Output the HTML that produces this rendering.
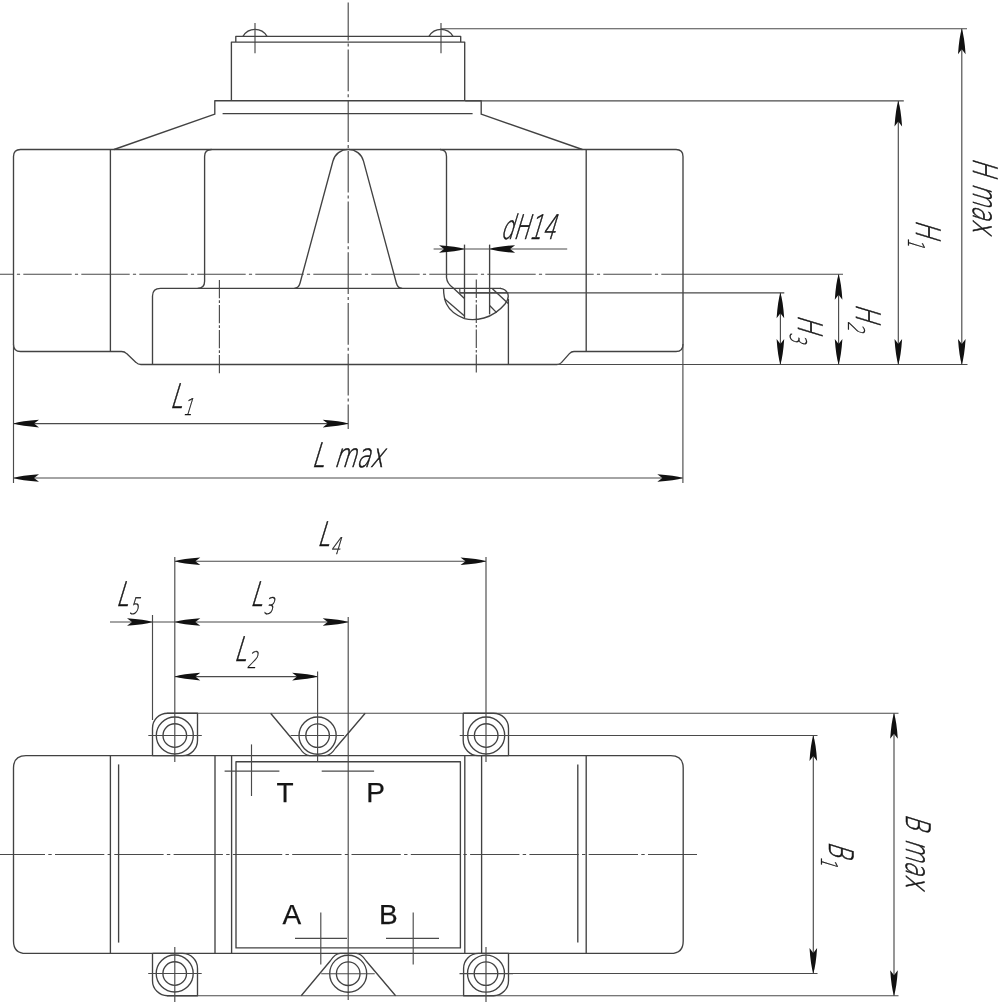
<!DOCTYPE html>
<html lang="en">
<head>
<meta charset="utf-8">
<title>Dimensional drawing</title>
<style>
html,body{margin:0;padding:0;background:#fff;}
body{width:1001px;height:1002px;overflow:hidden;}
svg{display:block;will-change:transform;}
.m{fill:none;stroke:#424242;stroke-width:1.35;stroke-linecap:butt;stroke-linejoin:round;}
.t{fill:none;stroke:#4a4a4a;stroke-width:1.15;}
.c{fill:none;stroke:#4a4a4a;stroke-width:1.15;stroke-dasharray:48.4 3.2 3.2 3.2;}
.g{font-family:"DejaVu Sans","Liberation Sans",sans-serif;font-weight:200;fill:#151515;stroke:#151515;stroke-width:0.6;}
.p{font-family:"Liberation Sans",sans-serif;font-size:28px;fill:#151515;stroke:#151515;stroke-width:0.25;}
#ar{fill:#111;stroke:none;}
</style>
</head>
<body>
<svg width="1001" height="1002" viewBox="0 0 1001 1002">
<defs>
<path id="ar" d="M0,0 Q-8,-2.6 -25.5,-3.8 L-20.5,0 L-25.5,3.8 Q-8,2.6 0,0 Z"/>
</defs>
<rect x="0" y="0" width="1001" height="1002" fill="#fff"/>
<g id="front-view">
<line class="c" x1="0" y1="274.2" x2="708" y2="274.2" style="stroke-dashoffset:34.7"/>
<line class="t" x1="708" y1="274.2" x2="843" y2="274.2"/>
<line class="c" x1="348.2" y1="2.5" x2="348.2" y2="429" style="stroke-dasharray:41.7 3 3 3;stroke-dashoffset:3.7"/>
<line class="c" x1="219.4" y1="279.9" x2="219.4" y2="373.2" style="stroke-dasharray:18.3 2 2.7 2"/>
<line class="c" x1="476.3" y1="279.6" x2="476.3" y2="372.6" style="stroke-dasharray:18.3 2 2.7 2"/>
<path class="m" d="M243,36.3 A13.8 13.8 0 0 1 267,36.3"/>
<line class="t" x1="255" y1="22.9" x2="255" y2="53.2"/>
<path class="m" d="M429.0,36.3 A13.8 13.8 0 0 1 453.0,36.3"/>
<line class="t" x1="441.0" y1="22.9" x2="441.0" y2="53.2"/>
<path class="m" d="M235.8,42.1 V36.4 H460.7 V42.1"/>
<path class="m" d="M231.4,100.8 V42.1 H464.7 V100.8"/>
<path class="m" d="M114,149.5 L214.8,114.2 V100.7 H481.2 V114.2 L582.4,149.5"/>
<line class="m" x1="222.6" y1="113.6" x2="472.6" y2="113.6"/>
<path class="m" d="M110.4,149.5 H20.5 Q13.5,149.5 13.5,156.5 V344.5 Q13.5,351.5 20.5,351.5 H121.5 Q124.6,351.5 126.6,353.6 L136,362.4 Q138,364.5 141,364.5 H557 Q559.6,364.5 561.4,362.6 L569.4,353.6 Q571.4,351.5 574,351.5 H676 Q683,351.5 683,344.5 V156.5 Q683,149.5 676,149.5 H110.4"/>
<line class="m" x1="110.4" y1="149.5" x2="110.4" y2="351.5"/>
<line class="m" x1="586.2" y1="149.5" x2="586.2" y2="351.5"/>
<path class="m" d="M152.5,364.5 V296 Q152.5,288.3 160.5,288.3 H501"/>
<path class="m" d="M197.6,288.3 Q204.6,288.3 204.6,281.3 V156.5 Q204.6,149.5 211.6,149.5"/>
<path class="m" d="M294.3,288.3 Q298.6,288.3 300,283.3 L332.9,161.2 A15.8 15.8 0 0 1 363.5,161.2 L396.4,283.3 Q397.8,288.3 402.2,288.3"/>
<path class="m" d="M440,149.5 Q446.5,149.5 446.5,156.5 V277.5 Q447,283.5 453,287.8 L464.5,298.5"/>
<path class="t" d="M459.8,288.3 V292.8 H784.3"/>
<line class="m" x1="459.8" y1="292.8" x2="508.4" y2="292.8"/>
<line class="m" x1="508.4" y1="299" x2="508.4" y2="364.5"/>
<line class="m" x1="464.5" y1="244.6" x2="464.5" y2="318.6"/>
<line class="m" x1="489.6" y1="244.6" x2="489.6" y2="314.4"/>
<path class="m" d="M443.5,288.3 C443.6,294 444,299 446.5,304 C450,311 455,315 464.5,318.6 C470,320 478,319.6 484,318 C493,315.5 500,310 505,304 C508,300 509,296 507.5,293 C506,290 503,288.6 500,288.3"/>
<line class="m" x1="444.2" y1="298.6" x2="464.5" y2="316"/>
<line class="m" x1="492.4" y1="288.8" x2="508.2" y2="303.4"/>
<line class="m" x1="489.6" y1="305.5" x2="496.6" y2="312.6"/>
<line class="t" x1="433.6" y1="249" x2="567.2" y2="249"/>
<use href="#ar" transform="translate(464.5,249) rotate(0)"/>
<use href="#ar" transform="translate(489.6,249) rotate(180)"/>
<line class="t" x1="13.5" y1="344" x2="13.5" y2="483"/>
<line class="t" x1="682.9" y1="344" x2="682.9" y2="483"/>
<line class="t" x1="13.5" y1="423.6" x2="348.2" y2="423.6"/>
<use href="#ar" transform="translate(13.5,423.6) rotate(180)"/>
<use href="#ar" transform="translate(348.2,423.6) rotate(0)"/>
<line class="t" x1="13.5" y1="478" x2="682.8" y2="478"/>
<use href="#ar" transform="translate(13.5,478) rotate(180)"/>
<use href="#ar" transform="translate(682.8,478) rotate(0)"/>
<line class="t" x1="557" y1="364.5" x2="967.5" y2="364.5"/>
<line class="t" x1="441" y1="28.7" x2="967" y2="28.7"/>
<line class="t" x1="465.2" y1="100.9" x2="903.8" y2="100.9"/>
<line class="t" x1="780.4" y1="292.8" x2="780.4" y2="364.5"/>
<use href="#ar" transform="translate(780.4,292.8) rotate(-90)"/>
<use href="#ar" transform="translate(780.4,364.5) rotate(90)"/>
<line class="t" x1="838.6" y1="274.2" x2="838.6" y2="364.5"/>
<use href="#ar" transform="translate(838.6,274.2) rotate(-90)"/>
<use href="#ar" transform="translate(838.6,364.5) rotate(90)"/>
<line class="t" x1="898.3" y1="100.9" x2="898.3" y2="364.5"/>
<use href="#ar" transform="translate(898.3,100.9) rotate(-90)"/>
<use href="#ar" transform="translate(898.3,364.5) rotate(90)"/>
<line class="t" x1="961.8" y1="28.7" x2="961.8" y2="364.5"/>
<use href="#ar" transform="translate(961.8,28.7) rotate(-90)"/>
<use href="#ar" transform="translate(961.8,364.5) rotate(90)"/>
</g>
<g id="top-view">
<line class="c" x1="0" y1="854.5" x2="697" y2="854.5" style="stroke-dasharray:49.3 3.3 3.4 3.3;stroke-dashoffset:4.3"/>
<path class="m" d="M26,755.6 H670.7 Q683.2,755.6 683.2,768.1 V940.9 Q683.2,953.4 670.7,953.4 H26 Q13.5,953.4 13.5,940.9 V768.1 Q13.5,755.6 26,755.6"/>
<line class="m" x1="110.4" y1="755.6" x2="110.4" y2="953.4"/>
<line class="m" x1="215" y1="755.6" x2="215" y2="953.4"/>
<line class="m" x1="231.6" y1="755.6" x2="231.6" y2="953.4"/>
<line class="m" x1="464.8" y1="755.6" x2="464.8" y2="953.4"/>
<line class="m" x1="481.6" y1="755.6" x2="481.6" y2="953.4"/>
<line class="m" x1="586.2" y1="755.6" x2="586.2" y2="953.4"/>
<line class="m" x1="118.6" y1="764.4" x2="118.6" y2="942.6"/>
<line class="m" x1="577.8" y1="764.4" x2="577.8" y2="942.6"/>
<rect class="m" x="236" y="761.7" width="224.4" height="186.2"/>
<line class="t" x1="167" y1="713.2" x2="898.5" y2="713.2"/>
<line class="t" x1="167" y1="995.7" x2="898.5" y2="995.7"/>
<line class="t" x1="485.8" y1="735.5" x2="817.5" y2="735.5"/>
<line class="t" x1="485.8" y1="973.5" x2="817.5" y2="973.5"/>
<line class="t" x1="348.2" y1="617" x2="348.2" y2="1000"/>
<path class="m" d="M167.5,713.2 H197.5 V740.6 A15 15 0 0 1 182.5,755.6 H152.5 V728.2 A15 15 0 0 1 167.5,713.2"/>
<circle class="m" cx="174.8" cy="735.5" r="18.5"/>
<circle class="m" cx="174.8" cy="735.5" r="11.8"/>
<line class="t" x1="148.3" y1="735.5" x2="201.8" y2="735.5"/>
<path class="m" d="M463.2,713.2 H493.5 A15 15 0 0 1 508.5,728.2 V755.6 H478.2 A15 15 0 0 1 463.2,740.6 V713.2"/>
<circle class="m" cx="486.2" cy="735.5" r="18.5"/>
<circle class="m" cx="486.2" cy="735.5" r="11.8"/>
<line class="t" x1="459.7" y1="735.5" x2="513.2" y2="735.5"/>
<path class="m" d="M152.5,953.4 H182.5 A15 15 0 0 1 197.5,968.4 V995.7 H167.5 A15 15 0 0 1 152.5,980.7 V953.4"/>
<circle class="m" cx="174.7" cy="973.5" r="18.5"/>
<circle class="m" cx="174.7" cy="973.5" r="11.8"/>
<line class="t" x1="148.2" y1="973.5" x2="201.7" y2="973.5"/>
<path class="m" d="M478.6,953.4 H508.5 V980.7 A15 15 0 0 1 493.5,995.7 H463.6 V968.4 A15 15 0 0 1 478.6,953.4"/>
<circle class="m" cx="486" cy="973.6" r="18.5"/>
<circle class="m" cx="486" cy="973.6" r="11.8"/>
<line class="t" x1="459.5" y1="973.6" x2="513" y2="973.6"/>
<path class="m" d="M270.6,713.2 L299.6,748 Q304.6,755.6 309.6,755.6 H325.6 Q330.6,755.6 335.6,748 L365.20000000000005,713.2"/>
<circle class="m" cx="317.6" cy="735.6" r="18.6"/>
<circle class="m" cx="317.6" cy="735.6" r="11.8"/>
<line class="t" x1="290.6" y1="735.5" x2="344.1" y2="735.5"/>
<path class="m" d="M301.2,995.7 L330.2,961 Q335.2,953.4 340.2,953.4 H356.2 Q361.2,953.4 366.2,961 L395.59999999999997,995.7"/>
<circle class="m" cx="348.2" cy="973.7" r="18.5"/>
<circle class="m" cx="348.2" cy="973.7" r="11.8"/>
<line class="t" x1="321.2" y1="973.7" x2="374.7" y2="973.7"/>
<line class="t" x1="224.6" y1="771.1" x2="279.4" y2="771.1"/>
<line class="t" x1="251.5" y1="744.4" x2="251.5" y2="796"/>
<line class="t" x1="321.7" y1="771.1" x2="374.1" y2="771.1"/>
<line class="t" x1="295" y1="938.4" x2="347" y2="938.4"/>
<line class="t" x1="320.8" y1="912.5" x2="320.8" y2="964.6"/>
<line class="t" x1="386" y1="938.4" x2="439" y2="938.4"/>
<line class="t" x1="413.2" y1="912.5" x2="413.2" y2="964.6"/>
<line class="t" x1="152.5" y1="615" x2="152.5" y2="720"/>
<line class="t" x1="174.8" y1="557" x2="174.8" y2="762"/>
<line class="t" x1="317.6" y1="671.6" x2="317.6" y2="762"/>
<line class="t" x1="486" y1="557" x2="486" y2="762"/>
<line class="t" x1="174.8" y1="947" x2="174.8" y2="1002"/>
<line class="t" x1="486" y1="947" x2="486" y2="1002"/>
<line class="t" x1="174.8" y1="561.2" x2="486" y2="561.2"/>
<use href="#ar" transform="translate(174.8,561.2) rotate(180)"/>
<use href="#ar" transform="translate(486,561.2) rotate(0)"/>
<line class="t" x1="110" y1="622" x2="348.2" y2="622"/>
<use href="#ar" transform="translate(152.5,622) rotate(0)"/>
<use href="#ar" transform="translate(174.8,622) rotate(180)"/>
<use href="#ar" transform="translate(348.2,622) rotate(0)"/>
<line class="t" x1="174.8" y1="676.6" x2="317.6" y2="676.6"/>
<use href="#ar" transform="translate(174.8,676.6) rotate(180)"/>
<use href="#ar" transform="translate(317.6,676.6) rotate(0)"/>
<line class="t" x1="813.3" y1="735.5" x2="813.3" y2="973.5"/>
<use href="#ar" transform="translate(813.3,735.5) rotate(-90)"/>
<use href="#ar" transform="translate(813.3,973.5) rotate(90)"/>
<line class="t" x1="894" y1="713.2" x2="894" y2="995.7"/>
<use href="#ar" transform="translate(894,713.2) rotate(-90)"/>
<use href="#ar" transform="translate(894,995.7) rotate(90)"/>
</g>
<g id="labels">
<text class="g" transform="translate(500,239.2) skewX(-17) scale(0.615,1)" font-size="33.5">dH14</text>
<text class="g" transform="translate(169.4,407.8) skewX(-17) scale(0.68,1)" font-size="33.5">L<tspan font-size="23" stroke-width="0.3" dx="4" dy="7.5">1</tspan></text>
<text class="g" transform="translate(311.3,467.3) skewX(-17) scale(0.68,1)" font-size="33.5" word-spacing="3.7">L max</text>
<text class="g" transform="translate(316.8,546.3) skewX(-17) scale(0.68,1)" font-size="33.5">L<tspan font-size="23" stroke-width="0.3" dx="4" dy="7.5">4</tspan></text>
<text class="g" transform="translate(115.5,606) skewX(-17) scale(0.68,1)" font-size="33.5">L<tspan font-size="23" stroke-width="0.3" dx="4" dy="7.5">5</tspan></text>
<text class="g" transform="translate(249.8,606) skewX(-17) scale(0.68,1)" font-size="33.5">L<tspan font-size="23" stroke-width="0.3" dx="4" dy="7.5">3</tspan></text>
<text class="g" transform="translate(233.4,660.8) skewX(-17) scale(0.68,1)" font-size="33.5">L<tspan font-size="23" stroke-width="0.3" dx="4" dy="7.5">2</tspan></text>
<text class="g" transform="translate(972.5,157.5) rotate(90) skewX(-17) scale(0.68,1)" font-size="33.5" word-spacing="1.5">H max</text>
<text class="g" transform="translate(915.5,219.6) rotate(90) skewX(-17) scale(0.68,1)" font-size="33.5">H<tspan font-size="23" stroke-width="0.3" dx="4" dy="7.5">1</tspan></text>
<text class="g" transform="translate(856,303.4) rotate(90) skewX(-17) scale(0.68,1)" font-size="33.5">H<tspan font-size="23" stroke-width="0.3" dx="4" dy="7.5">2</tspan></text>
<text class="g" transform="translate(797.5,314.5) rotate(90) skewX(-17) scale(0.68,1)" font-size="33.5">H<tspan font-size="23" stroke-width="0.3" dx="4" dy="7.5">3</tspan></text>
<text class="g" transform="translate(829,841) rotate(90) skewX(-17) scale(0.68,1)" font-size="33.5">B<tspan font-size="23" stroke-width="0.3" dx="4" dy="7.5">1</tspan></text>
<text class="g" transform="translate(905.5,813.5) rotate(90) skewX(-17) scale(0.68,1)" font-size="33.5" word-spacing="3.7">B max</text>
<text class="p" x="276.5" y="801.8">T</text>
<text class="p" x="366.2" y="801.8">P</text>
<text class="p" x="282.6" y="923.6">A</text>
<text class="p" x="379" y="923.6">B</text>
</g>
</svg>
</body>
</html>
